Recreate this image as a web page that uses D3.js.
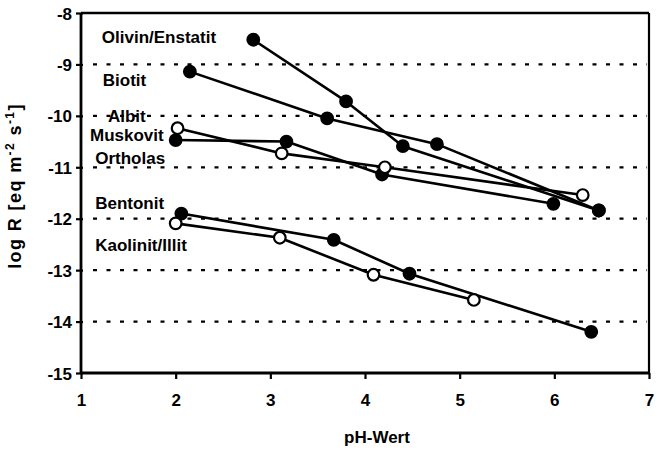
<!DOCTYPE html>
<html>
<head>
<meta charset="utf-8">
<script src="https://cdn.jsdelivr.net/npm/d3@7"></script>
<style>
  html, body { margin: 0; padding: 0; background: #fff; }
  svg text { font-family: "Liberation Sans", Arial, sans-serif; font-weight: bold; fill: #000; }
</style>
</head>
<body>
<svg id="chart" width="662" height="450"></svg>
<script>
// ---- data ----
const xTicks = [1, 2, 3, 4, 5, 6, 7];
const yTicks = [-8, -9, -10, -11, -12, -13, -14, -15];
const gridValues = [-9, -10, -11, -12, -13, -14];

const olivinPH = [2.82, 3.80, 4.40, 6.47];
const olivinLogR = [-8.52, -9.72, -10.59, -11.84];

const biotitPH = [2.15, 3.60, 4.76, 6.47];
const biotitLogR = [-9.14, -10.05, -10.55, -11.84];

const albitPH = [2.00, 3.17, 4.18, 5.99];
const albitLogR = [-10.47, -10.50, -11.14, -11.71];

const muskovitPH = [2.02, 3.12, 4.21, 6.30];
const muskovitLogR = [-10.24, -10.73, -11.00, -11.54];

const bentonitPH = [2.06, 3.67, 4.47, 6.39];
const bentonitLogR = [-11.90, -12.41, -13.07, -14.20];

const kaolinitPH = [2.00, 3.10, 4.09, 5.15];
const kaolinitLogR = [-12.09, -12.37, -13.09, -13.58];

const seriesNames = ["Olivin/Enstatit", "Biotit", "Albit", "Muskovit", "Bentonit", "Kaolinit/Illit"];
const seriesOpen = [false, false, false, true, false, true];

const labelTexts = ["Olivin/Enstatit", "Biotit", "Albit", "Muskovit", "Ortholas", "Bentonit", "Kaolinit/Illit"];
const labelPH = [1.22, 1.23, 1.285, 1.095, 1.15, 1.15, 1.15];
const labelLogR = [-8.58, -9.42, -10.12, -10.49, -10.94, -11.81, -12.63];

const xTitle = "pH-Wert";

// ---- layout ----
const svg = d3.select("#chart");
const x = d3.scaleLinear().domain([1, 7]).range([81, 649]);
const y = d3.scaleLinear().domain([-15, -8]).range([373, 13]);
const FS = "17px";

svg.append("rect").attr("width", 662).attr("height", 450).attr("fill", "#fff");

// gridlines
svg.append("g").selectAll("line").data(gridValues).join("line")
  .attr("x1", x(1) + 12).attr("x2", x(7) - 2)
  .attr("y1", d => y(d)).attr("y2", d => y(d))
  .attr("stroke", "#000").attr("stroke-width", 2.2)
  .attr("stroke-dasharray", "4,9.5");

// frame: top and right
svg.append("line").attr("x1", x(1)).attr("x2", x(7)).attr("y1", y(-8)).attr("y2", y(-8))
  .attr("stroke", "#000").attr("stroke-width", 2.5);
svg.append("line").attr("x1", x(7)).attr("x2", x(7)).attr("y1", y(-8)).attr("y2", y(-15))
  .attr("stroke", "#000").attr("stroke-width", 2.2);

// axes
const yAxis = d3.axisLeft(y).tickValues(yTicks).tickFormat(d => String(d)).tickSize(5).tickPadding(4);
const gy = svg.append("g").attr("transform", `translate(${x(1)},0)`).call(yAxis);
gy.select(".domain").attr("stroke-width", 2.8).attr("d", `M0,${y(-8)}V${y(-15)}`);
gy.selectAll(".tick line").attr("stroke-width", 2.2).attr("x2", -5).attr("x1", 2);
gy.selectAll(".tick text").style("font-size", FS).attr("dy", "0.36em");

const xAxis = d3.axisBottom(x).tickValues(xTicks).tickFormat(d => String(d)).tickSize(6).tickPadding(15);
const gx = svg.append("g").attr("transform", `translate(0,${y(-15)})`).call(xAxis);
gx.select(".domain").attr("stroke-width", 2.8).attr("d", `M${x(1)},0H${x(7)}`);
gx.selectAll(".tick line").attr("stroke-width", 2.2);
gx.selectAll(".tick text").style("font-size", FS);

// axis titles
svg.append("text").attr("x", 377).attr("y", 443).attr("text-anchor", "middle")
  .style("font-size", FS).text(xTitle);

const yt = svg.append("text").attr("transform", "translate(21,186) rotate(-90)")
  .attr("text-anchor", "middle").style("font-size", "18px").style("letter-spacing", "1.4px");
yt.append("tspan").text("log R [eq m");
yt.append("tspan").attr("dy", -7).style("font-size", "12px").text("-2");
yt.append("tspan").attr("dy", 7).text(" s");
yt.append("tspan").attr("dy", -7).style("font-size", "12px").text("-1");
yt.append("tspan").attr("dy", 7).text("]");

// series
const allPH = [olivinPH, biotitPH, albitPH, muskovitPH, bentonitPH, kaolinitPH];
const allLogR = [olivinLogR, biotitLogR, albitLogR, muskovitLogR, bentonitLogR, kaolinitLogR];
const series = seriesNames.map((n, i) => ({
  name: n, open: seriesOpen[i],
  pts: allPH[i].map((p, j) => ({ ph: p, r: allLogR[i][j] }))
}));

const line = d3.line().x(d => x(d.ph)).y(d => y(d.r));
const gS = svg.append("g");
series.forEach(s => {
  gS.append("path").datum(s.pts).attr("d", line)
    .attr("fill", "none").attr("stroke", "#000").attr("stroke-width", 2.6)
    .attr("stroke-linejoin", "round");
});
series.forEach(s => {
  gS.append("g").selectAll("circle").data(s.pts).join("circle")
    .attr("cx", d => x(d.ph)).attr("cy", d => y(d.r)).attr("r", 5.8)
    .attr("fill", s.open ? "#fff" : "#000")
    .attr("stroke", "#000").attr("stroke-width", 2.2);
});

// labels
svg.append("g").selectAll("text").data(labelTexts).join("text")
  .attr("x", (d, i) => x(labelPH[i])).attr("y", (d, i) => y(labelLogR[i]))
  .style("font-size", FS).text(d => d);
</script>
</body>
</html>
